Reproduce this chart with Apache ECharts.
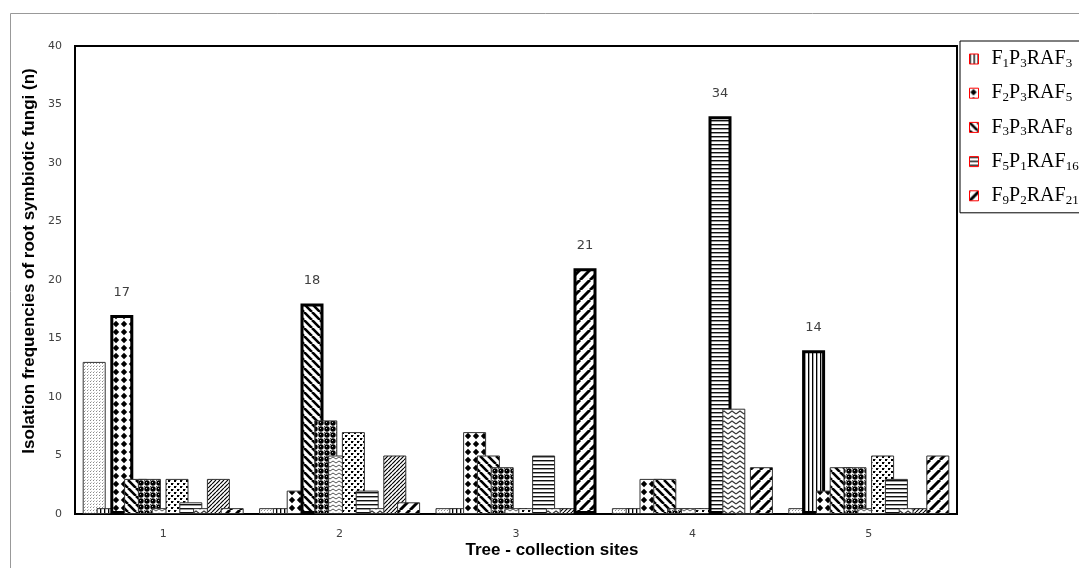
<!DOCTYPE html>
<html>
<head>
<meta charset="utf-8">
<script src="https://cdn.jsdelivr.net/npm/echarts@6/dist/echarts.min.js"></script>
<style>html,body{margin:0;padding:0;background:#fff}#c{width:1079px;height:568px}</style>
</head>
<body>
<div id="c"></div>
<script>
// ---- data ----
const categories = ['1', '2', '3', '4', '5'];
const yTicks = [0, 5, 10, 15, 20, 25, 30, 35, 40];
const seriesNames = ['Series A', 'F1P3RAF3', 'F2P3RAF5', 'F3P3RAF8', 'Series E', 'Series F', 'Series G', 'F5P1RAF16', 'Series I', 'Series J', 'F9P2RAF21'];
const legendNames = ['F1P3RAF3', 'F2P3RAF5', 'F3P3RAF8', 'F5P1RAF16', 'F9P2RAF21'];
const valsA = [13, 0.5, 0.5, 0.5, 0.5];
const valsF1P3RAF3 = [0.5, 0.5, 0.5, 0.5, 14];
const valsF2P3RAF5 = [17, 2, 7, 3, 2];
const valsF3P3RAF8 = [3, 18, 5, 3, 4];
const valsE = [3, 8, 4, 0.5, 4];
const valsF = [0.5, 5, 0.5, 0.5, 0.5];
const valsG = [3, 7, 0.5, 0.5, 5];
const valsF5P1RAF16 = [1, 2, 5, 34, 3];
const valsI = [0.5, 0.5, 0.5, 9, 0.5];
const valsJ = [3, 5, 0.5, 0, 0.5];
const valsF9P2RAF21 = [0.5, 1, 21, 4, 5];
const allVals = [valsA, valsF1P3RAF3, valsF2P3RAF5, valsF3P3RAF8, valsE, valsF, valsG, valsF5P1RAF16, valsI, valsJ, valsF9P2RAF21];

// ---- patterns ----
function mk(w, h, draw) {
  const c = document.createElement('canvas');
  c.width = w; c.height = h;
  const g = c.getContext('2d');
  g.fillStyle = '#fff'; g.fillRect(0, 0, w, h);
  draw(g);
  return { image: c, repeat: 'repeat' };
}
const patterns = [
  mk(3, 3, g => { g.fillStyle = '#8a8a8a'; g.fillRect(0, 0, 1, 1); g.fillStyle = '#c8c8c8'; g.fillRect(1, 2, 1, 1); }),
  mk(4, 1, g => { g.fillStyle = '#000'; g.fillRect(0, 0, 1, 1); g.fillStyle = '#aaa'; g.fillRect(1, 0, 1, 1); }),
  mk(8, 8, g => { g.fillStyle = '#000'; g.beginPath(); g.moveTo(4, 0.8); g.lineTo(7.2, 4); g.lineTo(4, 7.2); g.lineTo(0.8, 4); g.closePath(); g.fill(); }),
  mk(8, 8, g => { g.strokeStyle = '#000'; g.lineWidth = 2.6; g.beginPath(); for (const k of [-8, 0, 8]) { g.moveTo(k, 0); g.lineTo(k + 8, 8); } g.stroke(); }),
  mk(6, 6, g => { g.fillStyle = '#000'; g.beginPath(); g.arc(3, 3, 2.7, 0, 2 * Math.PI); g.fill(); g.fillStyle = '#bbb'; g.fillRect(2, 2, 1, 1); g.fillStyle = '#555'; g.fillRect(0, 0, 1, 1); }),
  mk(6, 4, g => { g.strokeStyle = '#555'; g.lineWidth = 1; g.beginPath(); g.moveTo(0, 3); g.lineTo(3, 1); g.lineTo(6, 3); g.stroke(); }),
  mk(6, 6, g => { g.fillStyle = '#000'; g.fillRect(0, 0, 2, 2); g.fillRect(3, 3, 2, 2); g.fillStyle = '#888'; g.fillRect(2, 0, 1, 1); g.fillRect(5, 3, 1, 1); }),
  mk(1, 4, g => { g.fillStyle = '#111'; g.fillRect(0, 0, 1, 1); g.fillStyle = '#999'; g.fillRect(0, 1, 1, 1); }),
  mk(8, 5, g => { g.strokeStyle = '#333'; g.lineWidth = 1.1; g.beginPath(); g.moveTo(0, 4); g.lineTo(4, 1); g.lineTo(8, 4); g.stroke(); }),
  mk(4, 4, g => { g.strokeStyle = '#000'; g.lineWidth = 1.2; g.beginPath(); for (const k of [-4, 0, 4]) { g.moveTo(k, 4); g.lineTo(k + 4, 0); } g.stroke(); }),
  mk(10, 10, g => { g.strokeStyle = '#000'; g.lineWidth = 3; g.beginPath(); for (const k of [-10, 0, 10]) { g.moveTo(k, 10); g.lineTo(k + 10, 0); } g.stroke(); })
];

// highlight the tallest bar of each group
const maxIdx = categories.map((_, ci) => {
  let best = 0;
  allVals.forEach((v, si) => { if (v[ci] > allVals[best][ci]) best = si; });
  return best;
});

const series = allVals.map((vals, si) => ({
  name: seriesNames[si],
  type: 'bar',
  barWidth: 23,
  barGap: '-40%',
  itemStyle: { color: patterns[si], borderColor: '#333', borderWidth: 1 },
  data: vals.map((v, ci) => {
    if (maxIdx[ci] === si) {
      return {
        value: v,
        itemStyle: { borderColor: '#000', borderWidth: 3 },
        label: { show: true, position: 'top', distance: 16, color: '#404040', fontSize: 13, fontFamily: 'DejaVu Sans' }
      };
    }
    return v;
  })
}));

const chart = echarts.init(document.getElementById('c'), null, { renderer: 'canvas' });
chart.setOption({
  backgroundColor: '#fff',
  animation: false,
  grid: { left: 75, top: 46, right: 122, bottom: 54, show: true, borderColor: '#000', borderWidth: 2, backgroundColor: 'transparent' },
  xAxis: {
    type: 'category',
    data: categories,
    axisLine: { lineStyle: { color: '#000', width: 2 } },
    axisTick: { show: false },
    axisLabel: { color: '#404040', fontSize: 11, fontFamily: 'DejaVu Sans', margin: 15 }
  },
  yAxis: {
    type: 'value',
    min: yTicks[0],
    max: yTicks[yTicks.length - 1],
    interval: yTicks[1] - yTicks[0],
    axisLine: { show: true, lineStyle: { color: '#000', width: 2 } },
    axisTick: { show: false },
    splitLine: { show: false },
    axisLabel: { color: '#404040', fontSize: 11, fontFamily: 'DejaVu Sans', margin: 13 }
  },
  legend: {
    orient: 'vertical',
    left: 960,
    top: 41,
    data: legendNames,
    icon: 'rect',
    itemWidth: 9,
    itemHeight: 10,
    itemGap: 13.2,
    padding: [8, 40, 6, 9],
    backgroundColor: '#fff',
    borderColor: '#000',
    borderWidth: 1,
    itemStyle: { borderColor: '#ff0000', borderWidth: 1 },
    formatter: name => name.replace(/([A-Z]+)/g, '{m|$1}').replace(/(\d+)/g, '{s|$1}'),
    textStyle: {
      color: '#000',
      fontFamily: 'Liberation Serif',
      fontSize: 20,
      padding: [0, 0, 0, 8],
      rich: {
        m: { fontFamily: 'Liberation Serif', fontSize: 20, color: '#000', lineHeight: 22 },
        s: { fontFamily: 'Liberation Serif', fontSize: 13, color: '#000', lineHeight: 15, verticalAlign: 'bottom' }
      }
    }
  },
  graphic: [
    { type: 'rect', z: -10, shape: { x: 10.5, y: 13.5, width: 1200, height: 700 }, style: { fill: 'none', stroke: '#999', lineWidth: 1 } },
    { type: 'text', x: 29, y: 261, rotation: Math.PI / 2,
      style: { text: 'Isolation frequencies of root symbiotic fungi (n)', font: 'bold 17px "Liberation Sans", Arial, sans-serif', fill: '#000', align: 'center', verticalAlign: 'middle', textAlign: 'center', textVerticalAlign: 'middle' } },
    { type: 'text', x: 552, y: 550,
      style: { text: 'Tree - collection sites', font: 'bold 17px "Liberation Sans", Arial, sans-serif', fill: '#000', align: 'center', verticalAlign: 'middle', textAlign: 'center', textVerticalAlign: 'middle' } }
  ],
  series: series
});
</script>
</body>
</html>
